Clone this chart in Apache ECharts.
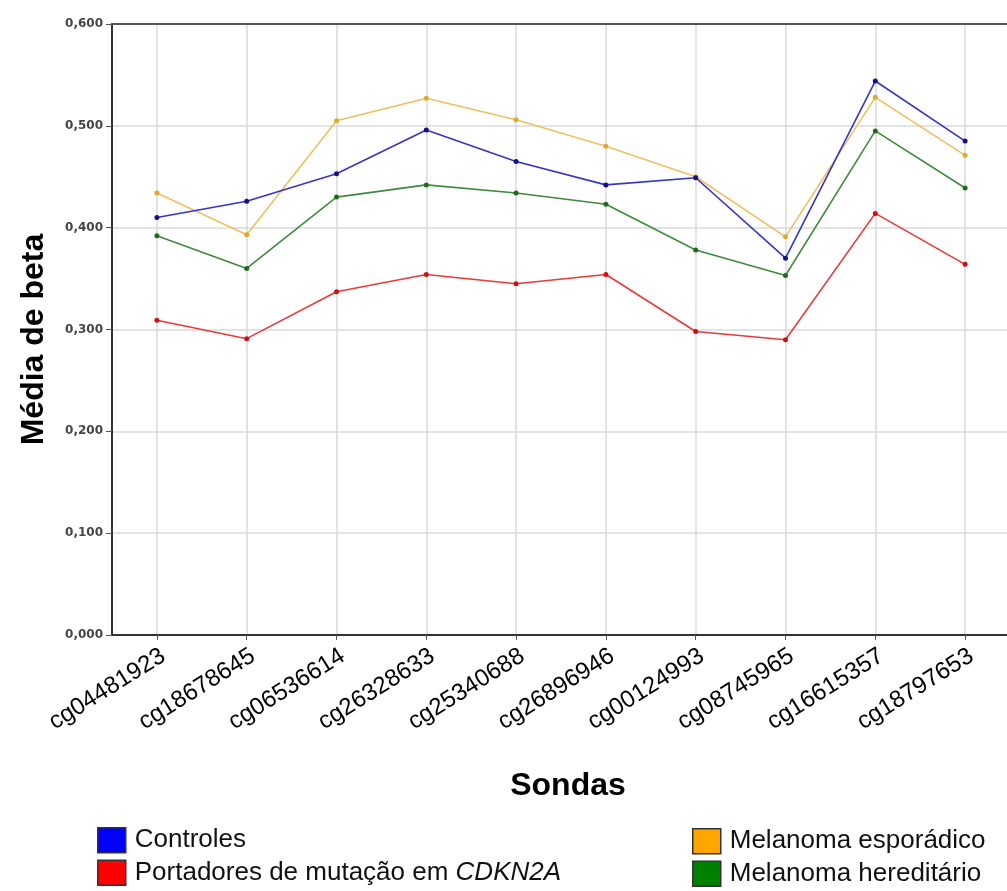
<!DOCTYPE html>
<html>
<head>
<meta charset="utf-8">
<script src="https://cdn.jsdelivr.net/npm/echarts@6/dist/echarts.min.js"></script>
<style>
  html, body { margin: 0; padding: 0; background: #ffffff; }
  #chart { width: 1007px; height: 891px; }
</style>
</head>
<body>
<div id="chart"></div>
<script>
// Probes (x axis categories)
const categories = [
  'cg04481923', 'cg18678645', 'cg06536614', 'cg26328633', 'cg25340688',
  'cg26896946', 'cg00124993', 'cg08745965', 'cg16615357', 'cg18797653'
];

// Mean beta per group
const controles   = [0.410, 0.426, 0.453, 0.496, 0.465, 0.442, 0.449, 0.370, 0.544, 0.485];
const esporadico  = [0.434, 0.393, 0.505, 0.527, 0.506, 0.480, 0.450, 0.391, 0.528, 0.471];
const hereditario = [0.392, 0.360, 0.430, 0.442, 0.434, 0.423, 0.378, 0.353, 0.495, 0.439];
const portadores  = [0.309, 0.291, 0.337, 0.354, 0.345, 0.354, 0.298, 0.290, 0.414, 0.364];

const groupNames = [
  'Controles',
  'Portadores de mutação em CDKN2A',
  'Melanoma esporádico',
  'Melanoma hereditário'
];

const chart = echarts.init(document.getElementById('chart'), null, { renderer: 'canvas' });

function lineSeries(name, data, lineColor, dotColor) {
  return {
    name: name,
    type: 'line',
    data: data,
    symbol: 'circle',
    symbolSize: 5,
    lineStyle: { color: lineColor, width: 1.6 },
    itemStyle: { color: dotColor },
    emphasis: { disabled: true }
  };
}

const sans = 'Liberation Sans, Arial, sans-serif';

const legendText = {
  fontFamily: sans,
  fontSize: 26,
  lineHeight: 26,
  color: '#111',
  padding: [0, 0, 0, 4],
  rich: {
    n: { fontFamily: sans, fontSize: 26, lineHeight: 26, color: '#111' },
    i: { fontFamily: sans, fontSize: 26, lineHeight: 26, color: '#111', fontStyle: 'italic' }
  }
};

function legendFormatter(name) {
  if (name === groupNames[1]) {
    return '{n|Portadores de mutação em }{i|CDKN2A}';
  }
  return name;
}

const legendBase = {
  orient: 'vertical',
  icon: 'rect',
  itemWidth: 28,
  itemHeight: 25,
  itemGap: 6,
  padding: 0,
  height: 64,
  selectedMode: false,
  itemStyle: { borderColor: '#333', borderWidth: 1.5 },
  textStyle: legendText,
  formatter: legendFormatter
};

const option = {
  animation: false,
  backgroundColor: '#ffffff',
  grid: {
    left: 112,
    top: 24,
    right: -3,
    bottom: 256,
    show: false,
    containLabel: false,
    outerBoundsMode: 'none'
  },
  legend: [
    Object.assign({}, legendBase, {
      left: 97,
      top: 827,
      data: [
        { name: groupNames[0], itemStyle: { color: '#0000ff' } },
        { name: groupNames[1], itemStyle: { color: '#ff0000' } }
      ]
    }),
    Object.assign({}, legendBase, {
      left: 692,
      top: 828,
      data: [
        { name: groupNames[2], itemStyle: { color: '#ffa500' } },
        { name: groupNames[3], itemStyle: { color: '#008000' } }
      ]
    })
  ],
  xAxis: [
    {
      type: 'category',
      data: categories,
      boundaryGap: true,
      name: 'Sondas',
      nameLocation: 'middle',
      nameGap: 135,
      nameTextStyle: {
        fontFamily: sans,
        fontSize: 32,
        fontWeight: 'bold',
        color: '#000',
        padding: [0, 0, 0, 14]
      },
      axisLine: { show: true, lineStyle: { color: '#333', width: 2 } },
      axisTick: { show: true, alignWithLabel: true, length: 5, lineStyle: { color: '#555', width: 1 } },
      axisLabel: {
        interval: 0,
        rotate: 32,
        margin: 9,
        align: 'right',
        verticalAlign: 'top',
        fontFamily: sans,
        fontSize: 24,
        color: '#000'
      },
      splitLine: { show: true, alignWithLabel: true, lineStyle: { color: '#dadada', width: 1.5 } }
    },
    {
      // top frame line of the plot
      type: 'category',
      data: categories,
      position: 'top',
      axisLine: { show: true, lineStyle: { color: '#555', width: 2 } },
      axisTick: { show: false },
      axisLabel: { show: false },
      splitLine: { show: false }
    }
  ],
  yAxis: {
    type: 'value',
    min: 0,
    max: 0.6,
    interval: 0.1,
    name: 'Média de beta',
    nameLocation: 'middle',
    nameGap: 62,
    nameTextStyle: {
      fontFamily: sans,
      fontSize: 32,
      fontWeight: 'bold',
      color: '#000',
      padding: [0, 20, 0, 0]
    },
    axisLine: { show: true, lineStyle: { color: '#333', width: 2 } },
    axisTick: { show: true, length: 6, lineStyle: { color: '#555', width: 1 } },
    axisLabel: {
      margin: 9,
      fontFamily: 'DejaVu Sans, Verdana, sans-serif',
      fontSize: 12,
      fontWeight: 'bold',
      color: '#444',
      formatter: function (v) { return v.toFixed(3).replace('.', ','); }
    },
    splitLine: { show: true, lineStyle: { color: '#dadada', width: 1.5 } }
  },
  series: [
    lineSeries(groupNames[3], hereditario, '#3f8a3f', '#1f6a1f'),
    lineSeries(groupNames[1], portadores, '#e83a3a', '#d01010'),
    lineSeries(groupNames[2], esporadico, '#f0c060', '#e0a830'),
    lineSeries(groupNames[0], controles, '#3535c8', '#10108a')
  ]
};

chart.setOption(option);
</script>
</body>
</html>
